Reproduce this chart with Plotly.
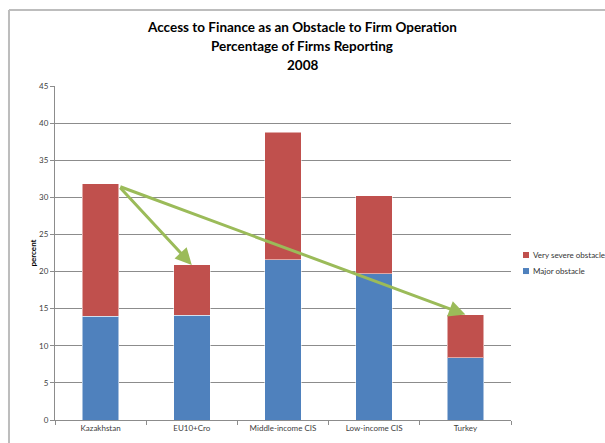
import plotly.graph_objects as go

# Share of firms naming access to finance as an obstacle, 2008 (percent)
regions = ["Kazakhstan", "EU10+Cro", "Middle-income CIS", "Low-income CIS", "Turkey"]
major_obstacle = [14.0, 14.1, 21.6, 19.7, 8.4]
very_severe_obstacle = [17.8, 6.8, 17.2, 10.5, 5.8]
y_ticks = [0, 5, 10, 15, 20, 25, 30, 35, 40, 45]
title_lines = [
    "Access to Finance as an Obstacle to Firm Operation",
    "Percentage of Firms Reporting",
    "2008",
]

totals = [m + v for m, v in zip(major_obstacle, very_severe_obstacle)]

BLUE = "#4F81BD"
RED = "#C0504D"
GREEN = "#9BBB59"
FONT = "Lato"

fig = go.Figure()
fig.add_trace(go.Bar(
    x=regions, y=major_obstacle, name="Major obstacle",
    marker=dict(color=BLUE, line=dict(color="rgba(255,255,255,0.5)", width=1)),
))
fig.add_trace(go.Bar(
    x=regions, y=very_severe_obstacle, name="Very severe obstacle",
    marker=dict(color=RED, line=dict(color="rgba(255,255,255,0.5)", width=1)),
))

# Arrows comparing Kazakhstan with EU10+Cro and Turkey
bar_half = 0.2
start_i = regions.index("Kazakhstan")
for target in ["EU10+Cro", "Turkey"]:
    j = regions.index(target)
    fig.add_annotation(
        x=j, y=totals[j], xref="x", yref="y",
        ax=start_i + bar_half, ay=totals[start_i] - 0.3, axref="x", ayref="y",
        showarrow=True, arrowhead=2, arrowsize=1.1, arrowwidth=3,
        arrowcolor=GREEN, text="",
    )

# Three-line centred heading
for line, ypos in zip(title_lines, [1.1766, 1.1198, 1.0629]):
    fig.add_annotation(
        text=f"<b>{line}</b>", xref="paper", yref="paper",
        x=0.5417, y=ypos, xanchor="center", yanchor="middle",
        showarrow=False, font=dict(family=FONT, size=13.5, color="black"),
    )

# Compact legend to the right of the plot (top entry = top of stack)
legend_rows = [(fig.data[1].name, RED, 0.494), (fig.data[0].name, BLUE, 0.446)]
for name, colour, ypos in legend_rows:
    fig.add_shape(type="rect", xref="paper", yref="paper",
                  x0=1.0263, x1=1.0395, y0=ypos - 0.009, y1=ypos + 0.009,
                  fillcolor=colour, line=dict(width=0))
    fig.add_annotation(
        text=name, xref="paper", yref="paper", x=1.0439, y=ypos,
        xanchor="left", yanchor="middle", showarrow=False,
        font=dict(family=FONT, size=8, color="#333333"),
    )

# Outer chart frame (left and top edges)
frame = dict(color="#BDBDBD", width=2)
fig.add_shape(type="line", xref="paper", yref="paper",
              x0=-0.1009, x1=-0.1009, y0=-0.2, y1=1.2275, line=frame)
fig.add_shape(type="line", xref="paper", yref="paper",
              x0=-0.1009, x1=1.3, y0=1.2275, y1=1.2275, line=frame)

fig.update_layout(
    width=605, height=443,
    margin=dict(l=55, r=94, t=86, b=23, autoexpand=False),
    paper_bgcolor="white", plot_bgcolor="white",
    barmode="stack", bargap=0.6,
    font=dict(family=FONT, size=8, color="#404040"),
    showlegend=False,
)
fig.update_yaxes(
    range=[0, 45], tickvals=y_ticks, showgrid=True, gridcolor="#8C8C8C", gridwidth=1,
    showline=True, linecolor="#8C8C8C", linewidth=1,
    ticks="outside", ticklen=4, tickcolor="#8C8C8C",
    title=dict(text="<b>percent</b>", font=dict(size=8, color="black"), standoff=1),
    zeroline=False,
)
fig.update_xaxes(
    showline=True, linecolor="#8C8C8C", linewidth=1,
    ticks="outside", ticklen=4, tickcolor="#8C8C8C", tickson="boundaries",
    showgrid=False,
)

fig.write_html("out.html")
